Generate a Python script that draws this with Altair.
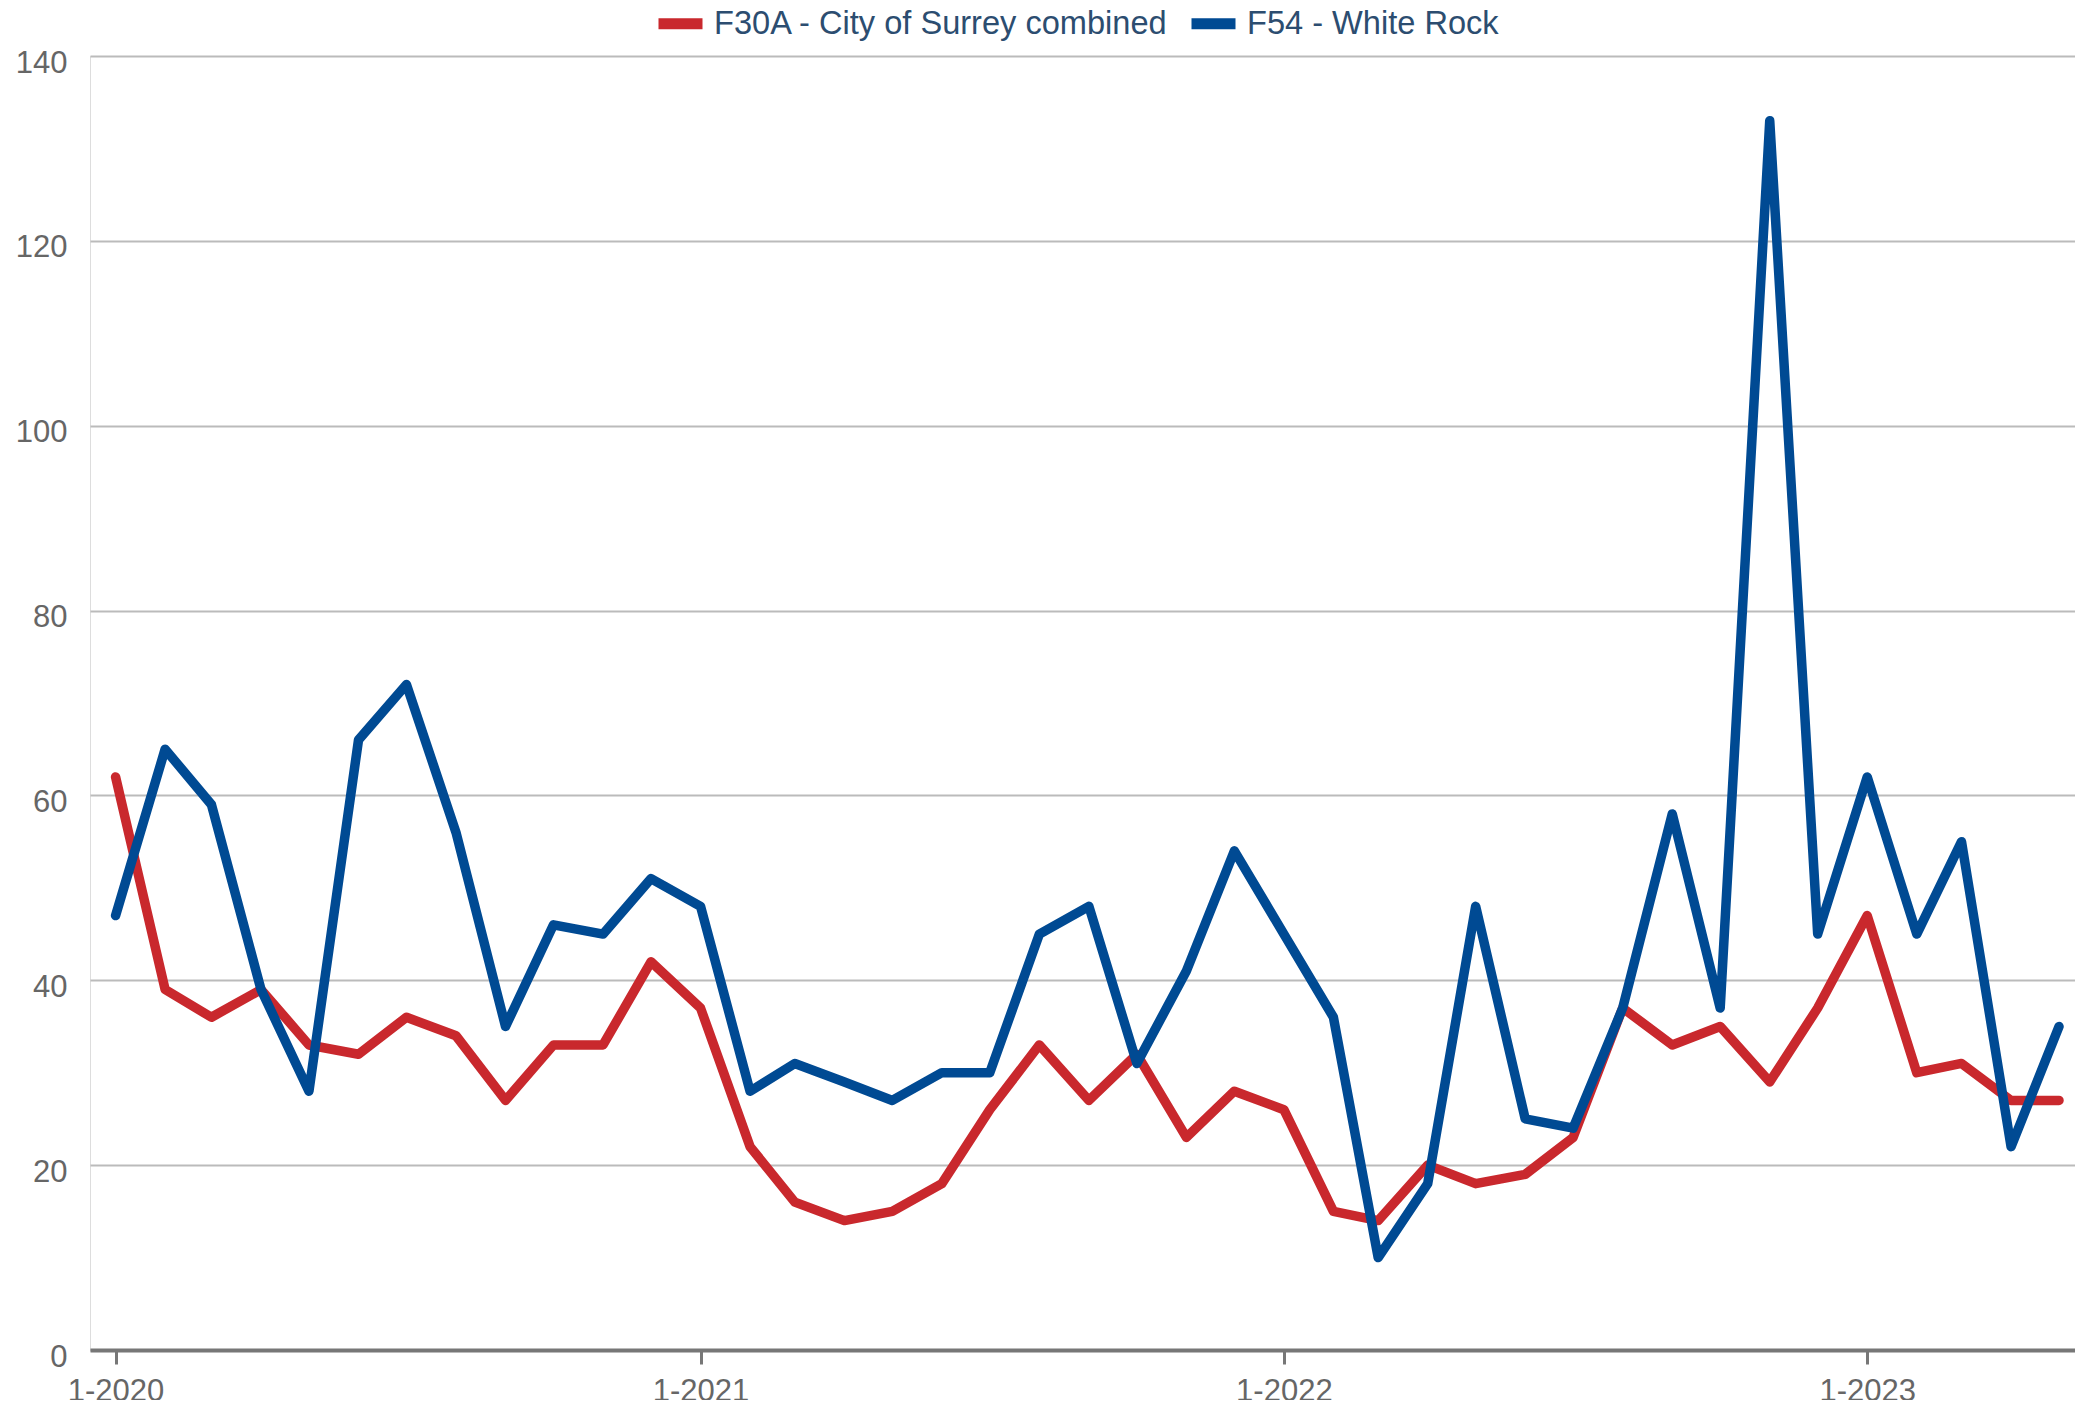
import altair as alt
import pandas as pd

months = pd.date_range("2020-01-01", periods=41, freq="MS")

series_names = ["F30A - City of Surrey combined", "F54 - White Rock"]
series_colors = ["#c9282d", "#004a93"]

surrey = [62, 39, 36, 39, 33, 32, 36, 34, 27, 33, 33, 42,
          37, 22, 16, 14, 15, 18, 26, 33, 27, 32, 23, 28,
          26, 15, 14, 20, 18, 19, 23, 37, 33, 35, 29, 37,
          47, 30, 31, 27, 27]
white_rock = [47, 65, 59, 39, 28, 66, 72, 56, 35, 46, 45, 51,
              48, 28, 31, 29, 27, 30, 30, 45, 48, 31, 41, 54,
              45, 36, 10, 18, 48, 25, 24, 37, 58, 37, 133, 45,
              62, 45, 55, 22, 35]

y_ticks = [0, 20, 40, 60, 80, 100, 120, 140]

rows = []
for name, vals in zip(series_names, [surrey, white_rock]):
    for m, v in zip(months, vals):
        rows.append({"month": m, "series": name, "value": v})
df = pd.DataFrame(rows)

FONT = "Liberation Sans"

x_ticks = [alt.DateTime(year=y, month=1, date=1) for y in [2020, 2021, 2022, 2023]]

base = alt.Chart(df)

lines = base.mark_line(strokeWidth=9.5, strokeCap="round", strokeJoin="round").encode(
    x=alt.X(
        "month:T",
        scale=alt.Scale(domain=[alt.DateTime(year=2019, month=12, date=16),
                                alt.DateTime(year=2023, month=5, date=11)]),
        axis=alt.Axis(
            title=None,
            values=x_ticks,
            format="%-m-%Y",
            grid=False,
            domain=True,
            domainColor="#777777",
            domainWidth=4,
            ticks=True,
            tickColor="#777777",
            tickWidth=3,
            tickSize=14,
            labelFont=FONT,
            labelFontSize=31,
            labelColor="#666666",
            labelPadding=12,
            labelFlush=False,
            labelOverlap=False,
        ),
    ),
    y=alt.Y(
        "value:Q",
        scale=alt.Scale(domain=[0, 140], nice=False),
        axis=alt.Axis(
            title=None,
            values=y_ticks,
            grid=True,
            gridColor="#bbbbbb",
            gridWidth=2,
            domain=False,
            ticks=False,
            labelFont=FONT,
            labelFontSize=31,
            labelColor="#666666",
            labelPadding=23,
            labelOffset=7,
        ),
    ),
    color=alt.Color(
        "series:N",
        scale=alt.Scale(domain=series_names, range=series_colors),
        legend=alt.Legend(
            title=None,
            orient="none",
            direction="horizontal",
            legendX=563,
            legendY=-60,
            symbolType="stroke",
            symbolStrokeWidth=11,
            symbolSize=1936,
            labelFont=FONT,
            labelFontSize=32.6,
            labelColor="#2c4d70",
            labelOffset=6,
            labelLimit=0,
            columnPadding=0,
            padding=0,
        ),
    ),
)

chart = lines.properties(
    width=1985,
    height=1294,
    autosize=alt.AutoSizeParams(type="none"),
    padding={"left": 82, "top": 48, "right": 0, "bottom": 50},
).configure_view(stroke=None).configure(background="white")

chart.save("out.html", embed_options={"renderer": "svg", "actions": False})
